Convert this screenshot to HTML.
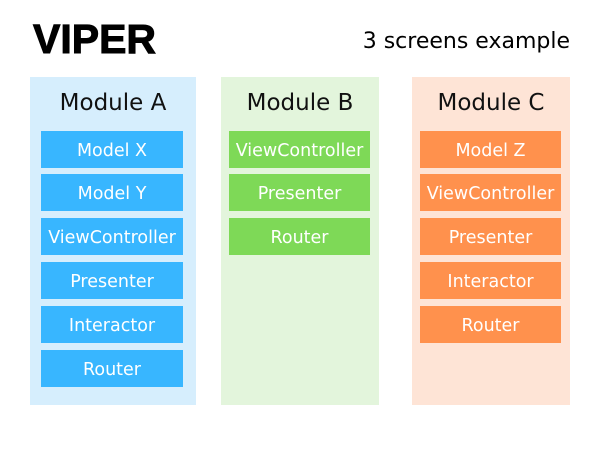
<!DOCTYPE html>
<html><head><style>
body{margin:0;width:600px;height:450px;background:#fff;position:relative;overflow:hidden;font-family:"DejaVu Sans","Liberation Sans",sans-serif}
.t{position:absolute;left:33px;top:16px;font:bold 41px "Liberation Sans",sans-serif;color:#000;-webkit-text-stroke:1px #000}
.s{position:absolute;right:30px;top:29px;font-size:22px;color:#000}
.col{position:absolute;top:77px;height:328px}
.h{position:absolute;top:90px;text-align:center;font-size:23px;color:#111}
.b{position:absolute;height:37px;line-height:40px;text-align:center;color:#fff;font-size:17.5px;overflow:hidden}
</style></head><body>
<div class="t">VIPER</div>
<div class="s">3 screens example</div>
<div class="col" style="left:30px;width:166px;background:#d6eefd"></div>
<div class="col" style="left:221px;width:158px;background:#e3f5dc"></div>
<div class="col" style="left:412px;width:158px;background:#fee4d6"></div>
<div class="h" style="left:30px;width:166px">Module A</div>
<div class="h" style="left:221px;width:158px">Module B</div>
<div class="h" style="left:412px;width:158px">Module C</div>

<div class="b" style="left:41px;width:142px;top:131px;background:#38b6ff">Model X</div>
<div class="b" style="left:41px;width:142px;top:174px;background:#38b6ff">Model Y</div>
<div class="b" style="left:41px;width:142px;top:218px;background:#38b6ff">ViewController</div>
<div class="b" style="left:41px;width:142px;top:262px;background:#38b6ff">Presenter</div>
<div class="b" style="left:41px;width:142px;top:306px;background:#38b6ff">Interactor</div>
<div class="b" style="left:41px;width:142px;top:350px;background:#38b6ff">Router</div>

<div class="b" style="left:229px;width:141px;top:131px;background:#7ed957">ViewController</div>
<div class="b" style="left:229px;width:141px;top:174px;background:#7ed957">Presenter</div>
<div class="b" style="left:229px;width:141px;top:218px;background:#7ed957">Router</div>

<div class="b" style="left:420px;width:141px;top:131px;background:#ff914d">Model Z</div>
<div class="b" style="left:420px;width:141px;top:174px;background:#ff914d">ViewController</div>
<div class="b" style="left:420px;width:141px;top:218px;background:#ff914d">Presenter</div>
<div class="b" style="left:420px;width:141px;top:262px;background:#ff914d">Interactor</div>
<div class="b" style="left:420px;width:141px;top:306px;background:#ff914d">Router</div>
</body></html>
